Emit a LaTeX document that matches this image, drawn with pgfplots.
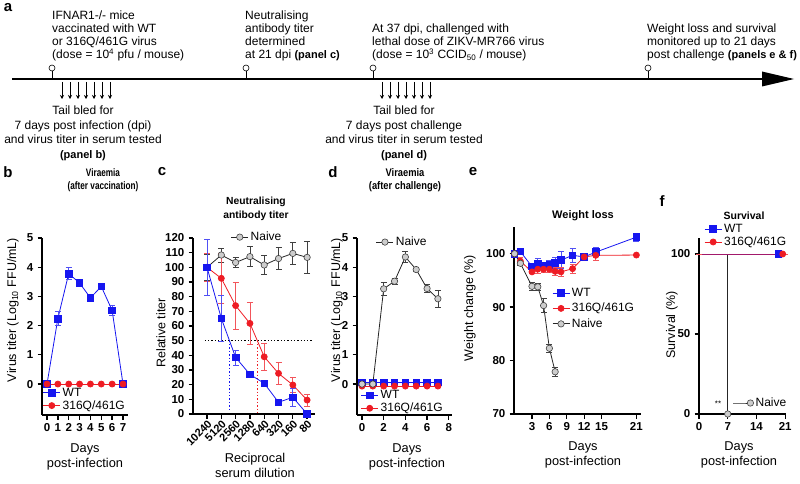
\documentclass[border=0pt]{standalone}
\usepackage{fontspec}
\setmainfont{Liberation Sans}
\newfontfamily\condfont{Liberation Sans}[FakeStretch=0.76]
\newfontfamily\condfontb{Liberation Sans}[FakeStretch=0.85]
\usepackage{pgfplots}
\pgfplotsset{compat=1.18}
\usetikzlibrary{arrows.meta}
\definecolor{wtb}{RGB}{22,22,240}
\definecolor{mr}{RGB}{238,28,36}
\definecolor{nvf}{RGB}{205,205,205}
\newcommand{\pb}[1]{{\bfseries\fontsize{11}{13}\selectfont #1}}
\pgfplotsset{
 gp/.style={scale only axis, anchor=south west,
  axis lines=left, axis line style={-, line width=1.5pt, black},
  tick style={line width=1.3pt, black}, major tick length=4.5pt, tick align=outside,
  clip=false,
  ticklabel style={font=\bfseries\fontsize{11.5}{12}\selectfont},
  /pgf/number format/assume math mode=true,
  legend style={draw=none, fill=none, font=\fontsize{12}{12}\selectfont, inner sep=0pt, outer sep=0pt, row sep=-1.5pt, cells={anchor=west}},
 },
 wt/.style={wtb, line width=0.8pt, mark=square*, mark size=3.3pt, mark options={solid, fill=wtb, draw=wtb},
  error bars/y dir=both, error bars/y explicit,
  error bars/error bar style={line width=0.7pt, wtb!75},
  error bars/error mark options={rotate=90, mark size=3pt, line width=0.7pt, wtb!75}},
 mu/.style={mr, line width=0.8pt, mark=*, mark size=3pt, mark options={solid, fill=mr, draw=mr},
  error bars/y dir=both, error bars/y explicit,
  error bars/error bar style={line width=0.7pt, mr!75},
  error bars/error mark options={rotate=90, mark size=3pt, line width=0.7pt, mr!75}},
 nv/.style={black!85, line width=0.8pt, mark=*, mark size=3.2pt, mark options={solid, fill=nvf, draw=black!75, line width=0.6pt},
  error bars/y dir=both, error bars/y explicit,
  error bars/error bar style={line width=0.7pt, black!75},
  error bars/error mark options={rotate=90, mark size=3pt, line width=0.7pt, black!75}},
}
\begin{document}
\fontsize{12}{13}\selectfont
\begin{tikzpicture}[x=1pt,y=1pt]
\useasboundingbox (0,0) rectangle (800,483);
% ---------------- panel a ----------------
\node[font=\bfseries\fontsize{15}{15}\selectfont] at (8,475) {a};
\draw[line width=2.6pt] (12,404) -- (766,404);
\fill (762,411.5) -- (794,404) -- (762,396.5) -- cycle;
\foreach \xx in {52,246,373,648}{
  \draw[line width=0.6pt] (\xx,404) -- (\xx,412);
  \draw[line width=0.6pt, fill=white] (\xx,415) circle (3);
}
\foreach \xx in {62,70,78,86,94,102,110,382,390,398,406,414,422,430}{
  \draw[line width=0.6pt, -{Stealth[length=4pt,width=4pt]}] (\xx,401) -- (\xx,384);
}
\begin{scope}[every node/.style={anchor=base west, inner sep=0pt}]
\node at (52,463) {IFNAR1-/- mice};
\node at (52,450) {vaccinated with WT};
\node at (52,437) {or 316Q/461G virus};
\node at (52,424) {(dose = 10\textsuperscript{4} pfu / mouse)};
\node at (245,463) {Neutralising};
\node at (245,450) {antibody titer};
\node at (245,437) {determined};
\node at (245,424) {at 21 dpi \pb{(panel c)}};
\node at (372,450) {At 37 dpi, challenged with};
\node at (372,437) {lethal dose of ZIKV-MR766 virus};
\node at (372,424) {(dose = 10\textsuperscript{3} CCID\textsubscript{50} / mouse)};
\node at (647,450) {Weight loss and survival};
\node at (647,437) {monitored up to 21 days};
\node at (647,424) {post challenge \pb{(panels e \& f)}};
\end{scope}
\begin{scope}[every node/.style={anchor=base, inner sep=0pt}]
\node at (83,368) {Tail bled for};
\node at (83,354) {7 days post infection (dpi)};
\node at (83,340) {and virus titer in serum tested};
\node at (83,325) {\pb{(panel b)}};
\node at (404,368) {Tail bled for};
\node at (404,354) {7 days post challenge};
\node at (404,340) {and virus titer in serum tested};
\node at (404,325) {\pb{(panel d)}};
\end{scope}
% ---------------- panel letters & titles ----------------
\begin{scope}[every node/.style={font=\bfseries\fontsize{15}{15}\selectfont}]
\node at (8,311) {b};
\node at (162,311) {c};
\node at (333,311) {d};
\node at (473,311) {e};
\node at (662,282) {f};
\end{scope}
\node[font=\condfont\bfseries\fontsize{10.8}{13}\selectfont, align=center] at (103,303) {Viraemia\\(after vaccination)};
\node[font=\condfontb\bfseries\fontsize{11}{13}\selectfont, align=center] at (405,303) {Viraemia\\(after challenge)};
\node[font=\bfseries\fontsize{10.3}{14}\selectfont, align=center] at (256,274) {Neutralising\\antibody titer};
\node[font=\bfseries\fontsize{11}{13}\selectfont] at (583,267) {Weight loss};
\node[font=\bfseries\fontsize{10.5}{13}\selectfont] at (744,267) {Survival};
\begin{scope}[every node/.style={font=\fontsize{12.8}{15}\selectfont, align=center}]
\node at (85,26) {Days\\post-infection};
\node at (255,18) {Reciprocal\\serum dilution};
\node at (407,26) {Days\\post-infection};
\node at (583,28) {Days\\post-infection};
\node at (739,28) {Days\\post-infection};
\end{scope}
\begin{scope}[every node/.style={font=\fontsize{12.5}{15}\selectfont, rotate=90}]
\node at (13,173) {Virus titer (Log\textsubscript{10} FFU/mL)};
\node at (161,150) {Relative titer};
\node at (337,173) {Virus titer (Log\textsubscript{10} FFU/mL)};
\node at (470,175) {Weight change (\%)};
\node at (672,158) {Survival (\%)};
\end{scope}
\node[font=\fontsize{8}{8}\selectfont] at (718,79) {**};
% ---------------- panel b ----------------
\begin{axis}[gp, at={(42pt,68pt)}, width=86pt, height=177pt,
  xmin=-0.46, xmax=7.46, ymin=-1.06, ymax=5,
  xtick={0,...,7}, ytick={0,...,5},
  legend style={at={(0.01,0.165)}, anchor=north west}]
\addplot[wt] coordinates {(0,0) +- (0,0) (1,2.24) +- (0,0.24) (2,3.78) +- (0,0.21) (3,3.46) +- (0,0.12) (4,2.95) +- (0,0.06) (5,3.34) +- (0,0.07) (6,2.52) +- (0,0.18) (7,0) +- (0,0)};
\addlegendentry{WT}
\addplot[mu] coordinates {(0,0) +- (0,0) (1,0) +- (0,0) (2,0) +- (0,0) (3,0) +- (0,0) (4,0) +- (0,0) (5,0) +- (0,0) (6,0) +- (0,0) (7,0) +- (0,0)};
\addlegendentry{316Q/461G}
\end{axis}
% ---------------- panel c ----------------
\begin{axis}[gp, at={(193pt,69pt)}, width=122pt, height=176pt,
  xmin=-0.98, xmax=7.55, ymin=0, ymax=120,
  xtick={0,...,7}, xticklabels={10240,5120,2560,1280,640,320,160,80},
  xticklabel style={rotate=45, anchor=north east, inner sep=0.5pt, font=\bfseries\fontsize{11}{11}\selectfont},
  ytick={0,10,...,120},
  legend style={at={(0.31,1.005)}, anchor=west}]
\addplot[nv] coordinates {(0,100) +- (0,9) (1,108.4) +- (0,4.8) (2,103.3) +- (0,3.6) (3,107.3) +- (0,6.8) (4,101.6) +- (0,6.6) (5,106) +- (0,7.5) (6,109.5) +- (0,7.5) (7,106.8) +- (0,10.8)};
\addlegendentry{Naive}
\addplot[color=black, dotted, line width=1.3pt, forget plot] coordinates {(-0.15,50) (7.35,50)};
\addplot[color=wtb, dotted, line width=1.4pt, forget plot] coordinates {(1.57,50) (1.57,3)};
\addplot[color=mr, dotted, line width=1.4pt, forget plot] coordinates {(3.52,50) (3.52,0)};
\addplot[mu, forget plot] coordinates {(0,100) +- (0,9.8) (1,92.5) +- (0,17) (2,73.9) +- (0,16) (3,61.8) +- (0,14.3) (4,39) +- (0,9) (5,27.7) +- (0,7.3) (6,19.8) +- (0,5.3) (7,9.5) +- (0,4)};
\addplot[wt, forget plot] coordinates {(0,100) +- (0,19.4) (1,65.2) +- (0,15.8) (2,38.6) +- (0,5.1) (3,27) +- (0,2) (4,20.9) +- (0,1) (5,8) +- (0,1) (6,11.4) +- (0,5.9) (7,0) +- (0,0)};
\end{axis}
% ---------------- panel d ----------------
\begin{axis}[gp, at={(357pt,68pt)}, width=95pt, height=177pt,
  xmin=-0.46, xmax=8.3, ymin=-1.06, ymax=5,
  xtick={0,2,...,8}, ytick={0,...,5},
  legend style={at={(0.04,0.15)}, anchor=north west}]
\addplot[wt] coordinates {(0,0.05) +- (0,0) (1,0.05) +- (0,0) (2,0.05) +- (0,0) (3,0.05) +- (0,0) (4,0.05) +- (0,0) (5,0.05) +- (0,0) (6,0.05) +- (0,0) (7,0.05) +- (0,0)};
\addlegendentry{WT}
\addplot[mu] coordinates {(0,-0.07) +- (0,0) (1,-0.07) +- (0,0) (2,-0.07) +- (0,0) (3,-0.07) +- (0,0) (4,-0.07) +- (0,0) (5,-0.07) +- (0,0) (6,-0.07) +- (0,0) (7,-0.07) +- (0,0)};
\addlegendentry{316Q/461G}
\end{axis}
\begin{axis}[gp, hide axis, at={(357pt,68pt)}, width=95pt, height=177pt,
  xmin=-0.46, xmax=8.3, ymin=-1.06, ymax=5,
  legend style={at={(0.2,0.977)}, anchor=west}]
\addplot[nv] coordinates {(0,0) +- (0,0) (1,0) +- (0,0) (2,3.26) +- (0,0.22) (3,3.52) +- (0,0.1) (4,4.35) +- (0,0.2) (5,3.92) +- (0,0.05) (6,3.27) +- (0,0.13) (7,2.92) +- (0,0.28)};
\addlegendentry{Naive}
\end{axis}
% ---------------- panel e ----------------
\begin{axis}[gp, at={(514pt,69pt)}, width=127pt, height=187pt,
  xmin=-0.1, xmax=21.8, ymin=70, ymax=105,
  xtick={3,6,9,12,15,21}, ytick={70,80,90,100},
  legend style={at={(0.3,0.684)}, anchor=north west, row sep=1pt}]
\addplot[wt] coordinates {(0,100) +- (0,0) (1,100.4) +- (0,0.2) (3,97.6) +- (0,0.4) (4,98.2) +- (0,1) (5,97.8) +- (0,0.5) (6,97.9) +- (0,0.9) (7,98.3) +- (0,1.1) (8,98.8) +- (0,1.6) (10,99.7) +- (0,1.3) (12,99.4) +- (0,0.5) (14,100.3) +- (0,0.8) (21,103.1) +- (0,0.7)};
\addlegendentry{WT}
\addplot[mu] coordinates {(0,100) +- (0,0) (1,98.6) +- (0,0.7) (3,96.6) +- (0,0.3) (4,97.1) +- (0,0.7) (5,97.1) +- (0,0.5) (6,97.1) +- (0,0.5) (7,96.7) +- (0,0.8) (8,96.6) +- (0,0.8) (10,97.2) +- (0,0.8) (12,99.4) +- (0,0.6) (14,99.7) +- (0,0.9) (21,99.75) +- (0,0)};
\addlegendentry{316Q/461G}
\addplot[nv] coordinates {(0,100) +- (0,0) (1,98.2) +- (0,0.3) (3,93.9) +- (0,0.7) (4,93.8) +- (0,0.7) (5,90.3) +- (0,1.3) (6,82.3) +- (0,0.8) (7,77.9) +- (0,0.8)};
\addlegendentry{Naive}
\end{axis}
% ---------------- panel f ----------------
\begin{axis}[gp, at={(699pt,69pt)}, width=87pt, height=176pt,
  xmin=0, xmax=21.2, ymin=0, ymax=110,
  xtick={0,7,14,21}, ytick={0,50,100},
  legend style={at={(0.39,0.0625)}, anchor=west}]
\addplot[nv, mark indices={3}] coordinates {(0,100) +- (0,0) (7,100) +- (0,0) (7,0) +- (0,0)};
\addlegendentry{Naive}
\end{axis}
\begin{axis}[gp, hide axis, at={(699pt,69pt)}, width=87pt, height=176pt,
  xmin=0, xmax=21.2, ymin=0, ymax=110,
  legend style={at={(0.06,1.09)}, anchor=north west}]
\addplot[wt, mark indices={2}] coordinates {(0,100) +- (0,0) (19.3,100) +- (0,0)};
\addlegendentry{WT}
\addplot[mu, mark indices={2}] coordinates {(0,100) +- (0,0) (20.4,100) +- (0,0) (21,100) +- (0,0)};
\addlegendentry{316Q/461G}
\end{axis}
\end{tikzpicture}
\end{document}
